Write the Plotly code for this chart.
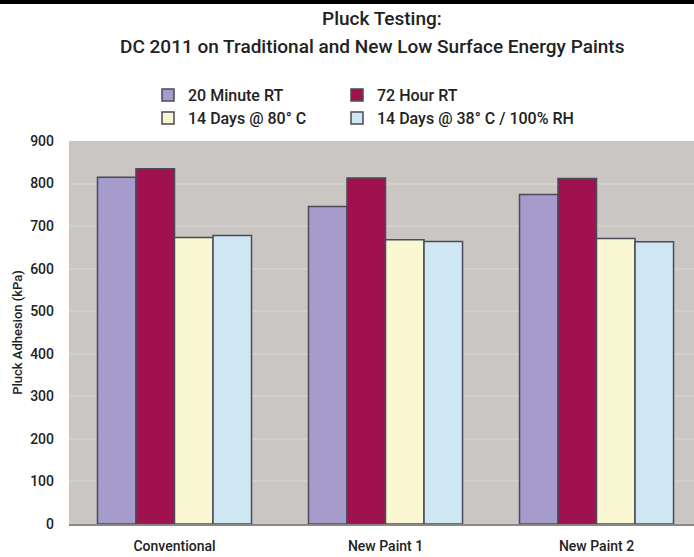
import plotly.graph_objects as go

categories = ["Conventional", "New Paint 1", "New Paint 2"]
series_names = ["20 Minute RT", "72 Hour RT", "14 Days @ 80° C", "14 Days @ 38° C / 100% RH"]
min20_rt = [815, 746, 774]
hour72_rt = [835, 813, 812]
days14_80c = [673, 668, 671]
days14_38c = [678, 664, 663]
y_ticks = [0, 100, 200, 300, 400, 500, 600, 700, 800, 900]
title_lines = ["Pluck Testing:", "DC 2011 on Traditional and New Low Surface Energy Paints"]

colors = ["#a59ccc", "#a0124f", "#faf8d2", "#cfe7f2"]
values = [min20_rt, hour72_rt, days14_80c, days14_38c]
legend_ids = ["legend", "legend2", "legend3", "legend4"]

FONT = "Roboto, Liberation Sans, sans-serif"
W, H = 694, 557
ML, MR, MT, MB = 69, 0, 141, 33
PW, PH = W - ML - MR, H - MT - MB

fig = go.Figure()
for name, vals, col, lg in zip(series_names, values, colors, legend_ids):
    fig.add_trace(go.Bar(
        x=categories, y=vals, name=name, legend=lg, showlegend=True,
        marker=dict(color=col, line=dict(color="#4a4a58", width=1.5)),
    ))

def leg(px, py):
    return dict(
        orientation="h", xref="paper", yref="paper", xanchor="left", yanchor="middle",
        x=(px - ML) / PW, y=(H - MB - py) / PH,
        bgcolor="rgba(0,0,0,0)", borderwidth=0,
        font=dict(family=FONT, size=16, color="#222", weight=500),
    )

fig.update_layout(
    showlegend=True,
    legend=leg(188 - 40, 95), legend2=leg(377 - 40, 95),
    legend3=leg(188 - 40, 118), legend4=leg(377 - 40, 118),
)

fig.update_layout(
    width=W, height=H,
    margin=dict(l=ML, r=MR, t=MT, b=MB),
    paper_bgcolor="white", plot_bgcolor="#c9c6c3",
    barmode="group", bargap=0.27, bargroupgap=0,
    xaxis=dict(
        range=[-0.5, 2.462], showgrid=False, ticks="", showline=True,
        linecolor="#8a8885", linewidth=2, ticklabelstandoff=8,
        tickfont=dict(family=FONT, size=14, color="#222", weight=500),
    ),
    yaxis=dict(
        range=[0, 900], tickvals=y_ticks, showgrid=True, gridcolor="#d2cfcb", gridwidth=1.5,
        zeroline=False, ticks="", ticklabelstandoff=14,
        tickfont=dict(family=FONT, size=14, color="#222", weight=500),
        title=dict(text="Pluck Adhesion (kPa)", font=dict(family=FONT, size=13, color="#222", weight=500), standoff=4),
    ),
    annotations=[
        dict(text=title_lines[0], xref="paper", yref="paper", x=(382 - ML) / PW, y=(H - MB - 18) / PH,
             xanchor="center", yanchor="middle", showarrow=False,
             font=dict(family=FONT, size=19, color="#222", weight=500)),
        dict(text=title_lines[1], xref="paper", yref="paper", x=(372 - ML) / PW, y=(H - MB - 46) / PH,
             xanchor="center", yanchor="middle", showarrow=False,
             font=dict(family=FONT, size=19, color="#222", weight=500)),
    ],
    shapes=[dict(type="line", xref="paper", yref="paper", x0=-ML / PW, x1=1.0,
                 y0=(H - MB - 2) / PH, y1=(H - MB - 2) / PH,
                 line=dict(color="black", width=4))],
)
fig.write_html("out.html", config={"displayModeBar": False},
               post_script="document.body.style.margin='0';")
